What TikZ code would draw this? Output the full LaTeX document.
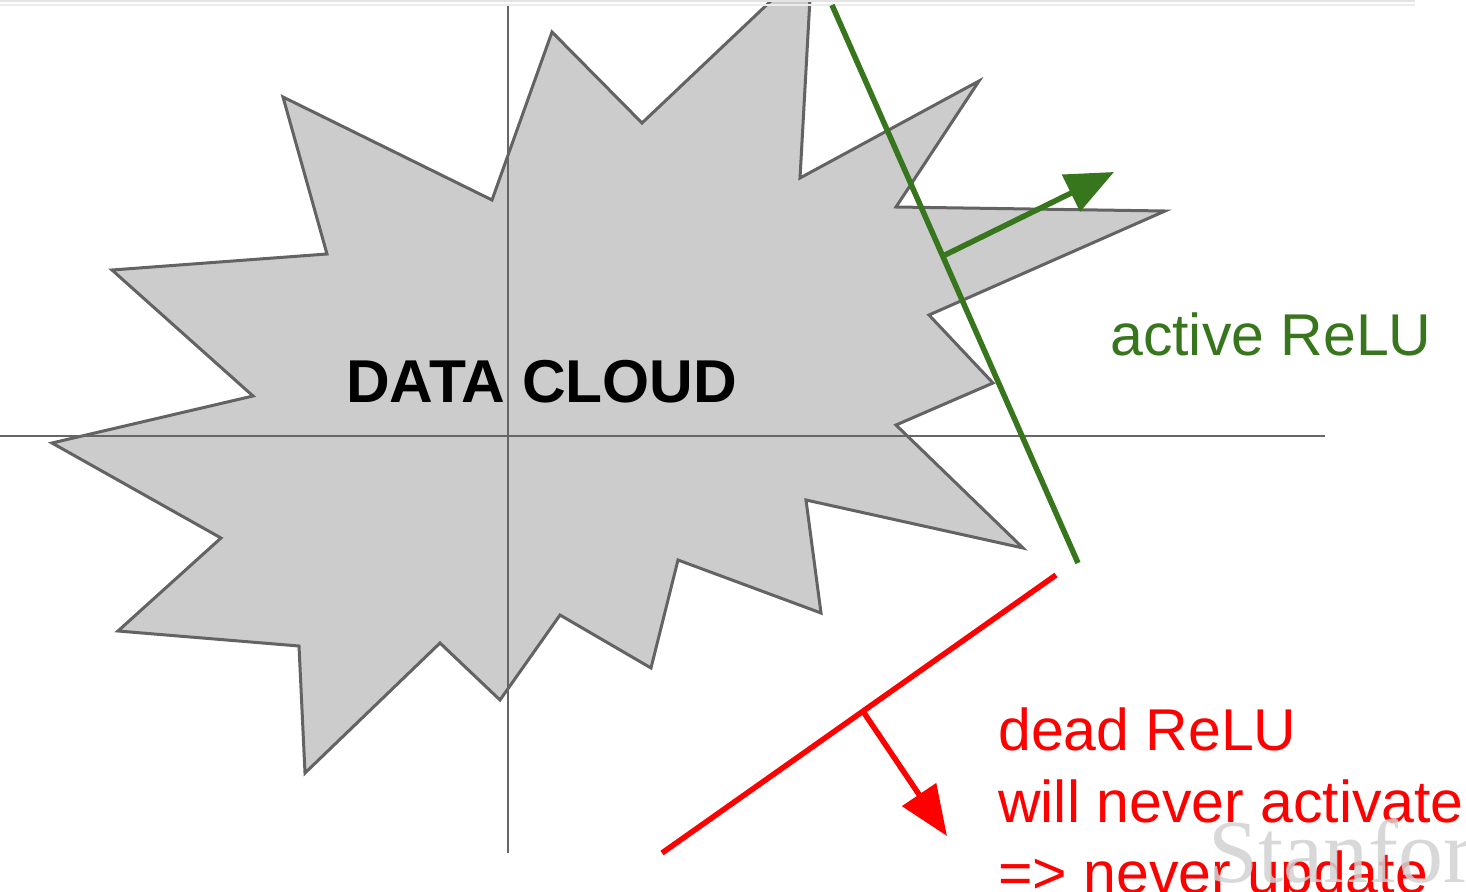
\documentclass[tikz,border=0pt]{standalone}
\usepackage{fontspec}
\setmainfont{Liberation Sans}
\newfontfamily\wmfont{Liberation Serif}
\usetikzlibrary{arrows.meta,calc}
\definecolor{relugreen}{HTML}{38761D}
\definecolor{relured}{HTML}{FF0000}
\definecolor{cloudfill}{HTML}{CCCCCC}
\definecolor{cloudedge}{HTML}{636363}
\definecolor{axisgray}{HTML}{666666}
\tikzset{
  axisline/.style={draw=axisgray,line width=2.2pt},
  cloudshape/.style={fill=cloudfill,draw=cloudedge,line width=3pt,line join=miter},
  greenline/.style={draw=relugreen,line width=5.5pt},
  redline/.style={draw=relured,line width=5.5pt},
  greenarrow/.style={draw=relugreen,line width=5.5pt,-{Triangle[length=48pt,width=40pt]}},
  redarrow/.style={draw=relured,line width=5.5pt,-{Triangle[length=50pt,width=40pt]}},
  bigtext/.style={font=\fontsize{59}{72}\selectfont,inner sep=0pt,anchor=base west},
}
\begin{document}
\begin{tikzpicture}[x=1pt,y=-1pt]
\useasboundingbox (0,0) rectangle (1466,891);
\fill[white] (0,0) rectangle (1466,891);
% cloud
\begin{scope}
\clip (0,3) rectangle (1466,891);
\path[cloudshape] (52,443) -- (253,396) -- (112,270) -- (327,254) -- (283,97) -- (492,200)
  -- (552,32) -- (642,123) -- (812,-38) -- (800,178) -- (979,81) -- (896,207)
  -- (1165,211) -- (929,315) -- (993,383) -- (896,425) -- (1023,548) -- (806,500)
  -- (821,613) -- (678,560) -- (651,668) -- (560,615) -- (500,700) -- (440,643)
  -- (305,773) -- (299,646) -- (118,631) -- (221,538) -- cycle;
\end{scope}
% axes
\coordinate (xl) at (0,436);
\coordinate (xr) at (1325,436);
\coordinate (yt) at (508,5);
\coordinate (yb) at (508,853);
\draw[axisline] (xl) -- (xr);
\draw[axisline] (yt) -- (yb);
% top band
\fill[gray!22] (0,0) rectangle (1415,2.5);
\fill[gray!15] (0,4) rectangle (1415,6);
% label
\node[bigtext,font=\fontsize{60.5}{72}\selectfont\bfseries,text=black] (dc) at (346,402) {DATA CLOUD};
% active ReLU
\coordinate (g1) at (832,5);
\coordinate (g2) at (1078,563);
\draw[greenline] (g1) -- (g2);
\coordinate (gb) at ($(g1)!0.45!(g2)$);
\coordinate (gt) at (1114,172);
\draw[greenarrow] (gb) -- (gt);
\node[bigtext,text=relugreen] (act) at (1110,355) {active ReLU};
% dead ReLU
\coordinate (r1) at (1056,575);
\coordinate (r2) at (662,853);
\draw[redline] (r1) -- (r2);
\coordinate (rb) at ($(r1)!0.49!(r2)$);
\coordinate (rt) at (947,836);
\draw[redarrow] (rb) -- (rt);
\node[bigtext,text=relured] (d1) at (998,750) {dead ReLU};
\node[bigtext,text=relured] (d2) at (998,822) {will never activate};
\node[bigtext,text=relured] (d3) at (998,893) {=> never update};
% watermark
\node[inner sep=0pt,anchor=base west,text=gray!35,opacity=0.85,font=\fontsize{90}{100}\selectfont\wmfont] (wm) at (1208,882) {Stanfor};
\end{tikzpicture}
\end{document}
